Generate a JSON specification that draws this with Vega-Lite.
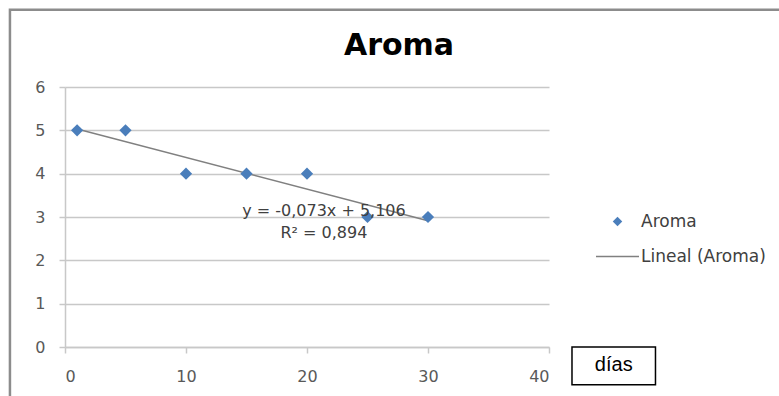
{
  "$schema": "https://vega.github.io/schema/vega-lite/v6.json",
  "autosize": {"type": "none"},
  "width": 484,
  "height": 260,
  "padding": {"left": 65, "top": 87, "right": 230, "bottom": 49},
  "background": "white",
  "config": {
    "view": {"stroke": null},
    "font": "DejaVu Sans",
    "axis": {"labelFont": "DejaVu Sans", "labelColor": "#595959", "labelFontSize": 16}
  },
  "title": {
    "text": "Aroma",
    "font": "DejaVu Sans",
    "fontSize": 30,
    "fontWeight": "bold",
    "color": "#000000",
    "anchor": "middle",
    "baseline": "alphabetic",
    "dx": 92,
    "offset": -76
  },
  "data": {
    "values": [
      {"dias": 1, "aroma": 5},
      {"dias": 5, "aroma": 5},
      {"dias": 10, "aroma": 4},
      {"dias": 15, "aroma": 4},
      {"dias": 20, "aroma": 4},
      {"dias": 25, "aroma": 3},
      {"dias": 30, "aroma": 3}
    ]
  },
  "layer": [
    {
      "data": {"values": [{"k": "frame"}]},
      "mark": {"type": "rect", "fill": null, "stroke": "#8c8c8c", "strokeWidth": 2.5, "clip": false},
      "encoding": {
        "x": {"datum": -4.55, "type": "quantitative"},
        "x2": {"datum": 60},
        "y": {"datum": 7.78, "type": "quantitative"},
        "y2": {"datum": -3}
      }
    },
    {
      "mark": {"type": "point", "opacity": 0},
      "encoding": {
        "x": {
          "field": "dias",
          "type": "quantitative",
          "scale": {"domain": [0, 40]},
          "axis": {
            "title": null,
            "values": [0, 10, 20, 30, 40],
            "grid": false,
            "domainColor": "#c8c8c8",
            "domainWidth": 1.5,
            "tickColor": "#c8c8c8",
            "tickWidth": 1.5,
            "tickSize": 6,
            "labelPadding": 15
          }
        },
        "y": {
          "field": "aroma",
          "type": "quantitative",
          "scale": {"domain": [0, 6]},
          "axis": {
            "title": null,
            "values": [0, 1, 2, 3, 4, 5, 6],
            "grid": true,
            "gridColor": "#c8c8c8",
            "gridWidth": 1.5,
            "domainColor": "#c8c8c8",
            "domainWidth": 1.5,
            "tickColor": "#c8c8c8",
            "tickWidth": 1.5,
            "tickSize": 6,
            "labelPadding": 14
          }
        }
      }
    },
    {
      "transform": [
        {"regression": "aroma", "on": "dias", "method": "linear", "extent": [1, 30]}
      ],
      "mark": {"type": "line", "strokeWidth": 1.5},
      "encoding": {
        "x": {"field": "dias", "type": "quantitative"},
        "y": {"field": "aroma", "type": "quantitative"},
        "stroke": {
          "datum": "Lineal (Aroma)",
          "scale": {"range": ["#808080"]},
          "legend": {
            "title": null,
            "orient": "none",
            "legendX": 530,
            "legendY": 147,
            "symbolType": "stroke",
            "symbolSize": 1850,
            "symbolStrokeWidth": 1.5,
            "labelFont": "DejaVu Sans",
            "labelFontSize": 17,
            "labelColor": "#404040",
            "labelOffset": 1
          }
        }
      }
    },
    {
      "mark": {"type": "point", "shape": "diamond", "filled": true, "size": 150, "opacity": 1},
      "encoding": {
        "x": {"field": "dias", "type": "quantitative"},
        "y": {"field": "aroma", "type": "quantitative"},
        "color": {
          "datum": "Aroma",
          "scale": {"range": ["#4a7ebb"]},
          "legend": {
            "title": null,
            "orient": "none",
            "legendX": 544,
            "legendY": 126,
            "symbolType": "diamond",
            "symbolSize": 90,
            "labelFont": "DejaVu Sans",
            "labelFontSize": 17,
            "labelColor": "#404040",
            "labelOffset": 15
          }
        }
      }
    },
    {
      "data": {"values": [{"t": "y = -0,073x + 5,106"}]},
      "mark": {"type": "text", "font": "DejaVu Sans", "fontSize": 16, "color": "#404040", "align": "center", "baseline": "middle"},
      "encoding": {
        "x": {"datum": 21.4, "type": "quantitative"},
        "y": {"datum": 3.13, "type": "quantitative"},
        "text": {"field": "t"}
      }
    },
    {
      "data": {"values": [{"t": "R² = 0,894"}]},
      "mark": {"type": "text", "font": "DejaVu Sans", "fontSize": 16, "color": "#404040", "align": "center", "baseline": "middle"},
      "encoding": {
        "x": {"datum": 21.4, "type": "quantitative"},
        "y": {"datum": 2.63, "type": "quantitative"},
        "text": {"field": "t"}
      }
    },
    {
      "data": {"values": [{"t": "días"}]},
      "mark": {"type": "rect", "fill": "white", "stroke": "#000000", "strokeWidth": 1.5, "clip": false},
      "encoding": {
        "x": {"datum": 41.9, "type": "quantitative"},
        "x2": {"datum": 48.8},
        "y": {"datum": 0, "type": "quantitative"},
        "y2": {"datum": -0.87}
      }
    },
    {
      "data": {"values": [{"t": "días"}]},
      "mark": {"type": "text", "font": "Liberation Sans", "fontSize": 20, "color": "#000000", "align": "center", "baseline": "middle", "clip": false},
      "encoding": {
        "x": {"datum": 45.35, "type": "quantitative"},
        "y": {"datum": -0.42, "type": "quantitative"},
        "text": {"field": "t"}
      }
    }
  ]
}
